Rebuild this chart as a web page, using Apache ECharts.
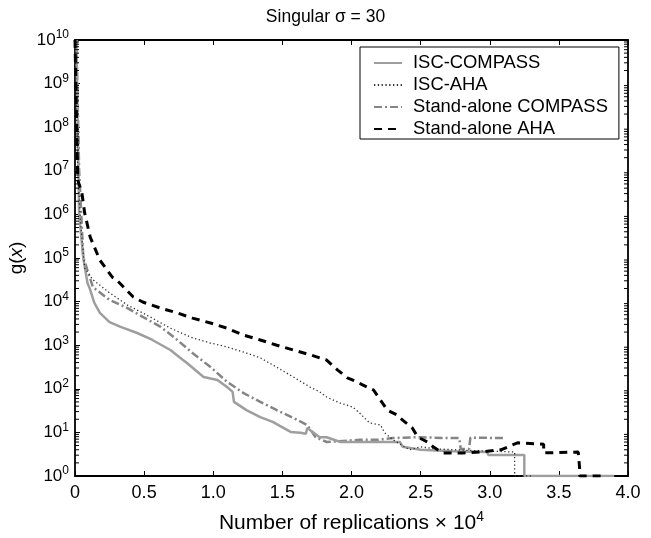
<!DOCTYPE html>
<html>
<head>
<meta charset="utf-8">
<script src="https://cdn.jsdelivr.net/npm/echarts@6/dist/echarts.min.js"></script>
<style>html,body{margin:0;padding:0;background:#fff}#c{width:651px;height:538px}</style>
</head>
<body>
<div id="c"></div>
<script>
// x in units of 10^4 replications, y stored as log10(g(x))
var iscCompassX   = [0.01,0.02,0.03,0.06,0.09,0.11,0.14,0.18,0.25,0.33,0.45,0.56,0.69,0.76,0.81,0.93,1.03,1.10,1.14,1.15,1.24,1.34,1.43,1.56,1.63,1.67,1.68,1.77,1.82,1.92,2.06,2.35,2.37,2.50,2.73,2.98,2.99,3.25,3.25,3.90];
var iscCompassLog = [10,  8.0, 6.0, 5.0, 4.43,4.27,3.97,3.74,3.53,3.42,3.28,3.12,2.89,2.71,2.59,2.27,2.20,2.04,1.93,1.70,1.51,1.35,1.24,1.01,0.99,0.97,1.10,0.89,0.89,0.78,0.78,0.78,0.67,0.60,0.57,0.55,0.48,0.48,0.0, 0.0];

var iscAhaX   = [0.00,0.02,0.04,0.07,0.13,0.25,0.38,0.52,0.69,0.85,0.98,1.10,1.24,1.34,1.43,1.58,1.70,1.77,1.82,1.92,2.01,2.06,2.13,2.21,2.24,2.30,2.42,2.50,2.62,2.90,3.18,3.18,3.30];
var iscAhaLog = [10,  7.0, 5.8, 4.77,4.50,4.20,3.92,3.69,3.39,3.17,3.05,2.96,2.82,2.71,2.55,2.27,2.04,1.93,1.81,1.67,1.58,1.44,1.22,1.17,0.99,0.83,0.60,0.67,0.62,0.58,0.55,0.0, 0.0];

var saCompassX   = [0.01,0.03,0.06,0.09,0.13,0.25,0.38,0.49,0.62,0.74,0.85,0.98,1.10,1.22,1.34,1.46,1.58,1.68,1.74,1.82,2.06,2.19,2.30,2.48,2.70,2.78,2.79,2.85,2.86,3.10];
var saCompassLog = [10,  7.0, 5.02,4.72,4.33,4.04,3.85,3.65,3.42,3.12,2.82,2.50,2.16,1.90,1.70,1.51,1.33,1.17,0.89,0.78,0.83,0.83,0.87,0.89,0.87,0.87,0.62,0.62,0.88,0.87];

var saAhaX   = [0.00,0.02,0.05,0.07,0.11,0.18,0.27,0.30,0.42,0.49,0.62,0.74,0.85,0.98,1.10,1.22,1.34,1.46,1.58,1.70,1.82,1.90,1.97,2.04,2.08,2.16,2.21,2.26,2.33,2.37,2.44,2.48,2.55,2.59,2.66,2.81,2.93,3.08,3.20,3.39,3.39,3.64,3.65,3.65,3.83];
var saAhaLog = [10,  6.79,6.49,6.03,5.48,4.95,4.56,4.50,4.11,3.99,3.85,3.74,3.62,3.51,3.39,3.23,3.12,3.00,2.89,2.78,2.66,2.43,2.25,2.16,2.09,1.97,1.74,1.51,1.40,1.28,1.10,0.89,0.78,0.67,0.53,0.53,0.55,0.60,0.76,0.73,0.53,0.55,0.18,0.0, 0.0];

var seriesNames = ['ISC-COMPASS','ISC-AHA','Stand-alone COMPASS','Stand-alone AHA'];

function pairs(xs, ls){ return xs.map(function(x,i){ return [x, Math.pow(10, ls[i])]; }); }

var font = 'Liberation Sans, Arial, sans-serif';
var chart = echarts.init(document.getElementById('c'), null, {renderer:'canvas'});
chart.setOption({
  animation:false,
  backgroundColor:'#fff',
  title:{text:'Singular σ = 30', left:'center', top:3, itemGap:0, textStyle:{fontFamily:font, fontSize:17.5, fontWeight:'normal', color:'#000'}},
  grid:{left:75, right:23, top:40, bottom:62, containLabel:false, outerBoundsMode:'none'},
  legend:{
    orient:'vertical', left:360, top:47, data:seriesNames,
    backgroundColor:'#fff', borderColor:'#000', borderWidth:1, borderRadius:0,
    padding:[7,11,1,13], itemGap:4, itemWidth:28, itemHeight:16,
    itemStyle:{opacity:0},
    textStyle:{fontFamily:font, fontSize:18.4, lineHeight:18, color:'#000', padding:[0,0,0,6]}
  },
  xAxis:[{
    type:'value', min:0, max:4, interval:0.5,
    name:'Number of replications × 10{s|4}', nameLocation:'middle', nameGap:34,
    nameTextStyle:{fontFamily:font, fontSize:21, color:'#000', rich:{s:{fontSize:14, fontFamily:font, color:'#000', padding:[0,0,12,0]}}},
    axisLine:{onZero:false, lineStyle:{color:'#000', width:1.8}},
    axisTick:{inside:true, length:5, lineStyle:{color:'#000'}},
    axisLabel:{fontFamily:font, fontSize:18, color:'#000', margin:8, formatter:function(v){ return v===0?'0':v.toFixed(1); }},
    splitLine:{show:false}
  },{
    type:'value', min:0, max:4, interval:0.5, position:'top',
    axisLine:{onZero:false, lineStyle:{color:'#000', width:1.8}},
    axisTick:{inside:true, length:5, lineStyle:{color:'#000'}},
    axisLabel:{show:false}, splitLine:{show:false}
  }],
  yAxis:[{
    type:'log', min:1, max:1e10, logBase:10, interval:1,
    name:'g({i|x})', nameLocation:'middle', nameGap:44, nameRotate:90,
    nameTextStyle:{fontFamily:font, fontSize:19, color:'#000', rich:{i:{fontStyle:'italic', fontFamily:font, fontSize:19, color:'#000'}}},
    axisLine:{onZero:false, lineStyle:{color:'#000', width:1.8}},
    axisTick:{inside:true, length:5, lineStyle:{color:'#000'}},
    axisLabel:{fontFamily:font, fontSize:17, color:'#000', margin:6,
      formatter:function(v){ var e=Math.round(Math.log10(v)); return '{b|10}{s|'+e+'}'; },
      rich:{b:{fontFamily:font, fontSize:17, color:'#000'}, s:{fontFamily:font, fontSize:12, color:'#000', padding:[0,0,10,0]}}},
    splitLine:{show:false}
  },{
    type:'log', min:1, max:1e10, logBase:10, position:'right',
    axisLine:{onZero:false, lineStyle:{color:'#000', width:1.8}},
    axisTick:{inside:true, length:5, lineStyle:{color:'#000'}},
    axisLabel:{show:false}, splitLine:{show:false}
  }],
  series:[
    {name:seriesNames[0], type:'line', symbol:'none', data:pairs(iscCompassX, iscCompassLog),
     lineStyle:{color:'#9e9e9e', width:2.5, type:'solid'}, itemStyle:{color:'#9e9e9e'}, z:3},
    {name:seriesNames[1], type:'line', symbol:'none', data:pairs(iscAhaX, iscAhaLog),
     lineStyle:{color:'#333', width:1.3, type:[1.3,2.5]}, itemStyle:{color:'#333'}, z:4},
    {name:seriesNames[2], type:'line', symbol:'none', data:pairs(saCompassX, saCompassLog),
     lineStyle:{color:'#858585', width:2.5, type:[8,3,2,3]}, itemStyle:{color:'#858585'}, z:2},
    {name:seriesNames[3], type:'line', symbol:'none', data:pairs(saAhaX, saAhaLog),
     lineStyle:{color:'#000', width:3, type:[8,6]}, itemStyle:{color:'#000'}, z:5}
  ]
});

// minor log ticks (2..9 x 10^k) on left and right axes, positioned via the chart's own scales
var xl = chart.convertToPixel({xAxisIndex:0}, 0);
var xr = chart.convertToPixel({xAxisIndex:0}, 4);
var ticks = [];
for (var k=0;k<10;k++){
  for (var m=2;m<10;m++){
    var py = chart.convertToPixel({yAxisIndex:0}, m*Math.pow(10,k));
    ticks.push({type:'line', shape:{x1:xr-4, y1:py, x2:xr, y2:py}, style:{stroke:'#000', lineWidth:1}, z:100, silent:true});
    ticks.push({type:'line', shape:{x1:xl, y1:py, x2:xl+4, y2:py}, style:{stroke:'#000', lineWidth:1}, z:100, silent:true});
  }
}
chart.setOption({graphic:ticks});
</script>
</body>
</html>
